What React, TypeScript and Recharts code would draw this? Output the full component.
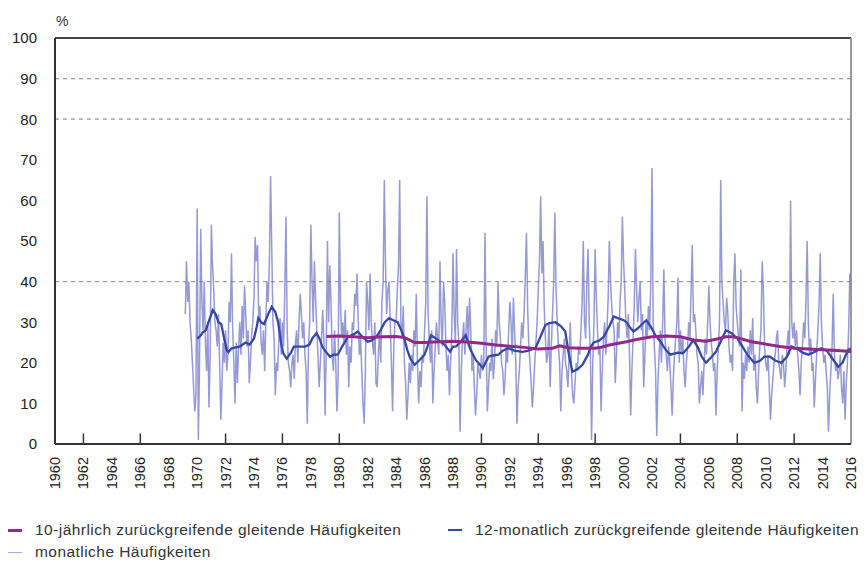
import React from 'react';
import { LineChart, Line, XAxis, YAxis, ReferenceLine } from 'recharts';

// monthly frequencies, one row per year (1969 starts in March)
const MONTHLY_START = 1969 + 2 / 12;
const MONTHLY: number[][] = [
  [32, 45, 35, 40, 30, 26, 20, 14, 8, 12], // 1969
  [58, 1, 20, 53, 35, 28, 40, 25, 18, 30, 9, 22], // 1970
  [54, 44, 38, 30, 28, 24, 32, 20, 6, 15, 25, 20],
  [28, 18, 22, 35, 30, 47, 28, 20, 10, 25, 15, 24],
  [30, 22, 34, 26, 39, 32, 24, 28, 15, 20, 27, 30],
  [36, 51, 45, 49, 30, 34, 25, 22, 28, 18, 30, 40],
  [35, 45, 66, 48, 30, 26, 12, 20, 18, 26, 31, 22], // 1975
  [30, 24, 38, 56, 28, 20, 18, 14, 20, 22, 16, 25],
  [28, 20, 30, 37, 32, 26, 30, 22, 18, 5, 24, 30],
  [54, 40, 30, 45, 36, 28, 22, 14, 20, 26, 33, 25],
  [7, 24, 50, 30, 44, 35, 22, 18, 28, 20, 8, 16],
  [57, 35, 26, 30, 25, 33, 22, 28, 14, 24, 20, 30], // 1980
  [28, 37, 34, 42, 30, 22, 26, 18, 10, 5, 18, 40],
  [35, 28, 42, 30, 25, 22, 30, 15, 14, 22, 28, 20],
  [35, 40, 65, 44, 32, 38, 40, 30, 20, 8, 24, 30],
  [30, 38, 44, 65, 30, 26, 34, 20, 15, 6, 12, 20],
  [15, 22, 18, 28, 24, 37, 20, 10, 18, 14, 22, 20], // 1985
  [28, 35, 61, 32, 25, 20, 28, 10, 18, 24, 30, 26],
  [22, 45, 30, 24, 40, 35, 24, 18, 22, 12, 20, 28],
  [47, 32, 25, 48, 30, 24, 3, 18, 26, 30, 22, 28],
  [34, 24, 36, 28, 18, 22, 14, 7, 12, 20, 18, 16],
  [22, 18, 20, 52, 25, 8, 14, 20, 18, 26, 16, 20], // 1990
  [28, 24, 40, 30, 26, 20, 18, 12, 16, 24, 20, 28],
  [35, 30, 22, 36, 28, 20, 5, 14, 18, 24, 30, 26],
  [32, 41, 52, 34, 24, 20, 15, 9, 14, 20, 25, 30],
  [38, 45, 61, 42, 50, 34, 26, 20, 22, 30, 14, 24],
  [32, 40, 57, 38, 30, 24, 20, 8, 18, 22, 26, 20], // 1995
  [18, 14, 22, 30, 18, 12, 10, 15, 20, 18, 24, 22],
  [28, 35, 50, 30, 26, 40, 48, 30, 22, 1, 20, 30],
  [48, 36, 28, 22, 24, 8, 18, 26, 30, 22, 28, 36],
  [50, 40, 34, 30, 28, 15, 22, 30, 26, 35, 40, 56],
  [45, 38, 30, 26, 32, 22, 7, 18, 26, 34, 48, 38], // 2000
  [30, 36, 40, 28, 32, 14, 22, 30, 26, 34, 28, 40],
  [68, 30, 24, 18, 2, 15, 22, 28, 20, 30, 43, 26],
  [22, 18, 24, 20, 14, 7, 16, 22, 26, 30, 41, 20],
  [28, 22, 26, 18, 14, 20, 24, 30, 26, 38, 49, 30],
  [32, 28, 22, 20, 10, 14, 18, 12, 20, 26, 22, 30], // 2005
  [39, 30, 25, 22, 18, 20, 7, 18, 24, 30, 65, 40],
  [35, 30, 28, 36, 32, 24, 20, 22, 18, 40, 47, 34],
  [30, 26, 24, 43, 8, 20, 16, 22, 18, 24, 20, 28],
  [22, 31, 18, 22, 14, 10, 18, 24, 28, 45, 38, 24],
  [20, 18, 22, 14, 6, 12, 16, 20, 22, 26, 28, 20], // 2010
  [18, 16, 22, 20, 14, 18, 24, 28, 22, 60, 30, 26],
  [30, 24, 28, 22, 18, 12, 20, 24, 30, 26, 36, 50],
  [30, 22, 26, 18, 20, 9, 16, 22, 28, 34, 47, 30],
  [24, 20, 22, 18, 14, 3, 12, 18, 24, 37, 22, 18],
  [20, 16, 18, 22, 14, 10, 18, 6, 15, 20, 28, 42], // 2015
];

// 12-month moving frequencies (time, %)
const MA12_T = [
  1970.0, 1970.2, 1970.4, 1970.6, 1970.8, 1971.0, 1971.1, 1971.3, 1971.5, 1971.7, 1971.9,
  1972.1, 1972.2, 1972.4, 1972.7, 1973.0, 1973.4, 1973.7, 1974.0, 1974.2, 1974.3, 1974.5,
  1974.7, 1975.0, 1975.25, 1975.5, 1975.7, 1975.9, 1976.05, 1976.3, 1976.6, 1976.8, 1977.2,
  1977.6, 1977.9, 1978.1, 1978.4, 1978.6, 1978.8, 1979.0, 1979.35, 1979.6, 1979.9, 1980.2,
  1980.6, 1981.0, 1981.3, 1981.6, 1982.0, 1982.3, 1982.6, 1982.9, 1983.2, 1983.5, 1983.8,
  1984.1, 1984.3, 1984.5, 1984.8, 1985.0, 1985.3, 1985.6, 1986.0, 1986.2, 1986.45, 1986.8,
  1987.1, 1987.4, 1987.8, 1988.0, 1988.2, 1988.5, 1988.9, 1989.2, 1989.6, 1990.1, 1990.5,
  1990.8, 1991.2, 1991.5, 1991.9, 1992.3, 1992.9, 1993.3, 1993.8, 1994.1, 1994.5, 1994.8,
  1995.2, 1995.6, 1995.9, 1996.1, 1996.4, 1996.8, 1997.1, 1997.5, 1997.7, 1997.9, 1998.3,
  1998.6, 1999.0, 1999.3, 1999.6, 2000.0, 2000.2, 2000.5, 2000.7, 2001.0, 2001.3, 2001.6,
  2001.9, 2002.2, 2002.6, 2003.0, 2003.3, 2003.8, 2004.2, 2004.6, 2004.9, 2005.2, 2005.5,
  2005.8, 2006.2, 2006.5, 2006.8, 2007.2, 2007.6, 2008.0, 2008.3, 2008.7, 2009.2, 2009.6,
  2009.9, 2010.3, 2010.7, 2011.1, 2011.5, 2011.8, 2012.2, 2012.6, 2013.0, 2013.5, 2013.9,
  2014.3, 2014.7, 2015.1, 2015.4, 2015.8, 2016.0,
];
const MA12_V = [
  26, 26.5, 27.5, 28, 30, 32, 33, 32, 30, 29.5, 26,
  23, 22.6, 23.5, 23.8, 24, 25, 24.5, 26, 29, 31, 30,
  29.5, 32, 33.8, 32.5, 30, 25, 22.4, 21, 22.5, 24, 24,
  24, 24.5, 26, 27.3, 26, 24, 23, 21.5, 22, 22, 24,
  26.4, 27, 27.7, 26.5, 25.2, 25.5, 26.4, 28, 30, 31, 30.5,
  30, 28.5, 26.8, 23, 21, 19.5, 20.5, 22, 24, 26.8, 26,
  25.2, 24.5, 22.7, 24, 24, 25, 26.8, 23.5, 20.7, 18.7, 21.5,
  21.8, 22, 23, 23.6, 23, 22.7, 23, 23.6, 26, 29.3, 29.8,
  30, 29, 27.7, 23, 17.8, 18.5, 19.5, 22, 24, 25, 25.5,
  26.4, 29, 31.4, 31, 30.5, 30, 28.5, 27.7, 28.5, 29.5, 30.5,
  29, 27, 25.2, 23, 22, 22.5, 22.4, 24, 25.6, 24, 21.5,
  20, 21.5, 22.7, 25, 28, 27.3, 26, 24.4, 22, 20, 20.5,
  21.5, 21.5, 20.5, 20, 21.5, 24, 23.5, 22.5, 22, 22.8, 23.6,
  23, 21, 19, 20, 23.2, 23.5,
];

// 10-year moving frequencies (time, %)
const MA10_T = [
  1979.1, 1980, 1981, 1982, 1983, 1984, 1984.6, 1985.3, 1986, 1987, 1988, 1989, 1990, 1991,
  1992, 1993, 1994, 1995, 1995.5, 1996.1, 1997, 1998, 1998.5, 1999, 2000.2, 2001, 2002, 2003,
  2004, 2004.9, 2005.8, 2006.5, 2007.2, 2007.6, 2008, 2009, 2010, 2011, 2012, 2013, 2014,
  2015, 2016,
];
const MA10_V = [
  26.5, 26.6, 26.4, 26.2, 26.4, 26.5, 26.2, 25, 25, 25.2, 25.3, 25.1, 24.8, 24.4,
  24.1, 23.8, 23.4, 23.6, 24.2, 23.7, 23.6, 23.6, 23.9, 24.4, 25.2, 25.8, 26.4, 26.6,
  26.4, 25.6, 25.3, 25.8, 26.4, 26.4, 26.2, 25.2, 24.6, 24, 23.6, 23.4, 23.2,
  23, 22.8,
];

const YEAR_TICKS = [
  1960, 1962, 1964, 1966, 1968, 1970, 1972, 1974, 1976, 1978, 1980, 1982, 1984, 1986, 1988,
  1990, 1992, 1994, 1996, 1998, 2000, 2002, 2004, 2006, 2008, 2010, 2012, 2014, 2016,
];
const MARKED_YEARS = [1962, 1966, 1972, 1976, 1980, 1990, 1994, 1998, 2004, 2008, 2012];
const Y_TICKS = [0, 10, 20, 30, 40, 50, 60, 70, 80, 90, 100];
const GRID_VALUES = [40, 80, 90];

const monthlyRows = MONTHLY.flat().map((v, i) => ({ t: MONTHLY_START + i / 12, v }));
const ma12Rows = MA12_T.map((t, i) => ({ t, v: MA12_V[i] }));
const ma10Rows = MA10_T.map((t, i) => ({ t, v: MA10_V[i] }));

const FONT = '"Liberation Sans", Arial, Helvetica, sans-serif';
const C_MONTHLY = '#6c71c4';
const C_MA12 = '#3548a6';
const C_MA10 = '#8e2a8c';

const YearTick = (props: any) => {
  const { x, y, payload } = props;
  return (
    <text
      x={x}
      y={y + 1}
      transform={`rotate(-90 ${x} ${y + 1})`}
      textAnchor="end"
      dy="0.35em"
      fontSize={14.5}
      fill="#222"
      fontFamily={FONT}
    >
      {payload.value}
    </text>
  );
};

const LegendItem = ({ color, width, opacity, label, left, top }: any) => (
  <div
    style={{
      position: 'absolute',
      left,
      top,
      display: 'flex',
      alignItems: 'center',
      fontSize: 15.5,
      letterSpacing: 0.45,
      color: '#333',
      whiteSpace: 'nowrap',
    }}
  >
    <span style={{ display: 'inline-block', width: 14, height: width, background: color, opacity, marginRight: 13 }} />
    <span>{label}</span>
  </div>
);

export default function App() {
  return (
    <div style={{ position: 'absolute', left: 0, top: 0, width: 866, height: 564, background: '#fff', fontFamily: FONT }}>
      <div style={{ position: 'absolute', left: 56, top: 13, fontSize: 14, color: '#333' }}>%</div>
      <LineChart width={866} height={564} margin={{ top: 38, right: 15, left: 0, bottom: 0 }}>
        <XAxis
          dataKey="t"
          type="number"
          domain={[1960, 2016]}
          ticks={YEAR_TICKS}
          interval={0}
          allowDataOverflow
          height={120}
          tick={<YearTick />}
          tickLine={false}
          tickSize={6}
          tickMargin={6}
          axisLine={{ stroke: '#333', strokeWidth: 2 }}
        />
        <YAxis
          type="number"
          domain={[0, 100]}
          ticks={Y_TICKS}
          interval={0}
          width={55}
          tickLine={false}
          tickSize={6}
          tickMargin={12}
          tick={{ fill: '#222', fontSize: 15, fontFamily: FONT }}
          axisLine={{ stroke: '#333', strokeWidth: 2 }}
        />
        {GRID_VALUES.map((g) => (
          <ReferenceLine key={`g-${g}`} y={g} stroke="#9c9c9c" strokeDasharray="4 4" strokeWidth={1.2} />
        ))}
        <ReferenceLine y={100} stroke="#444" strokeWidth={2} />
        <ReferenceLine x={2016} stroke="#999" strokeWidth={2} />
        {MARKED_YEARS.map((yr) => (
          <ReferenceLine
            key={`m-${yr}`}
            segment={[{ x: yr, y: 0 }, { x: yr, y: 2.6 }]}
            stroke="#333"
            strokeWidth={1.5}
          />
        ))}
        <Line
          data={monthlyRows}
          dataKey="v"
          type="linear"
          stroke={C_MONTHLY}
          strokeOpacity={0.72}
          strokeWidth={1.5}
          dot={false}
          isAnimationActive={false}
        />
        <Line
          data={ma12Rows}
          dataKey="v"
          type="linear"
          stroke={C_MA12}
          strokeWidth={2.3}
          dot={false}
          isAnimationActive={false}
        />
        <Line
          data={ma10Rows}
          dataKey="v"
          type="linear"
          stroke={C_MA10}
          strokeWidth={3}
          dot={false}
          isAnimationActive={false}
        />
      </LineChart>
      <LegendItem color={C_MA10} width={3} label="10-jährlich zurückgreifende gleitende Häufigkeiten" left={8} top={521} />
      <LegendItem color={C_MA12} width={2} label="12-monatlich zurückgreifende gleitende Häufigkeiten" left={448} top={521} />
      <LegendItem color={C_MONTHLY} width={1} opacity={0.6} label="monatliche Häufigkeiten" left={8} top={543} />
    </div>
  );
}
